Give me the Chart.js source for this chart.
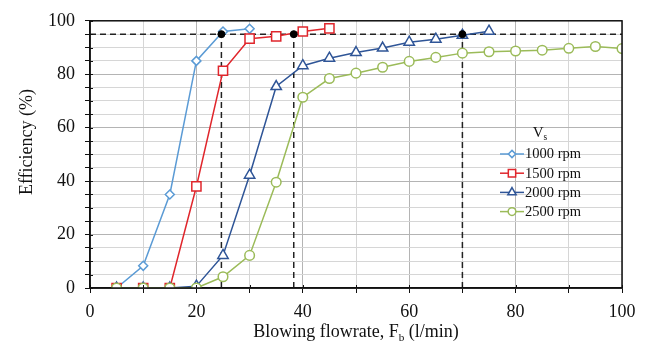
<!DOCTYPE html>
<html>
<head>
<meta charset="utf-8">
<script src="https://cdn.jsdelivr.net/npm/chart.js@4"></script>
<style>
  html, body { margin: 0; padding: 0; background: #fff; }
</style>
</head>
<body>
<canvas id="myChart" width="646" height="349"></canvas>
<script>
// blowing flowrate (l/min) and efficiency (%) per screw speed
const flow = [5, 10, 15, 20, 25, 30, 35, 40, 45, 50, 55, 60, 65, 70, 75, 80, 85, 90, 95, 100];
const eff1000 = [0, 8.3, 35, 85, 96, 97];
const eff1500 = [0, 0, 0, 38, 81.3, 93.3, 94.2, 96, 97.2];
const eff2000 = [0, 0, 0, 0.7, 12.2, 42.2, 75.4, 83.2, 86, 88.1, 89.8, 92, 93.1, 94.6, 96.1];
const eff2500 = [0, 0, 0, 0, 4.2, 12.2, 39.6, 71.4, 78.4, 80.4, 82.6, 84.8, 86.3, 87.9, 88.4, 88.7, 89, 89.7, 90.4, 89.6];
const speedLabels = ['1000 rpm', '1500 rpm', '2000 rpm', '2500 rpm'];

// 95 % target and the flowrates where each curve reaches it
const targetEff = 95;
const targetFlow = [24.7, 38.3, 70];

const xTicks = [0, 20, 40, 60, 80, 100];
const yTicks = [0, 20, 40, 60, 80, 100];
const xStep = 10, yStep = 5;

const colors = ['#5b9bd5', '#e0262c', '#2f5597', '#9bbb59'];
const styles = ['rectRot', 'rect', 'triangle', 'circle'];
const radii = [4.5, 6.5, 6, 4.8];

const FONT = "'Liberation Serif', 'Times New Roman', serif";
Chart.defaults.font.family = FONT;
Chart.defaults.color = '#111';

const series = [eff1000, eff1500, eff2000, eff2500].map((vals, i) => ({
  label: speedLabels[i],
  data: vals.map((v, j) => ({ x: flow[j], y: v })),
  borderColor: colors[i],
  backgroundColor: '#fff',
  borderWidth: 1.5,
  pointStyle: styles[i],
  pointRadius: radii[i],
  pointBorderWidth: 1.5,
  pointBackgroundColor: '#fff',
  order: 5 - i * 0.1
}));

const dashed = {
  borderColor: '#222',
  borderWidth: 1.5,
  borderDash: [6, 4],
  pointRadius: 0,
  order: 10
};
const guides = [
  Object.assign({ data: [{ x: 0, y: targetEff }, { x: 100, y: targetEff }] }, dashed)
].concat(targetFlow.map(f => Object.assign({ data: [{ x: f, y: 0 }, { x: f, y: targetEff }] }, dashed)));

const dots = {
  data: targetFlow.map(f => ({ x: f, y: targetEff })),
  showLine: false,
  pointRadius: 3.5,
  pointBackgroundColor: '#000',
  pointBorderColor: '#000',
  order: 0
};

function gridColor(c) {
  return c.tick && c.tick.value % 20 === 0 ? '#b4b4b4' : '#d6d6d6';
}

// every minor step gets a tick and a grid line
function stepTicks(step) {
  return function (s) {
    const out = [];
    for (let v = s.min; v <= s.max; v += step) out.push({ value: v });
    s.ticks = out;
  };
}

// text with a subscript, centred on x
function subText(ctx, before, sub, after, x, y, size) {
  ctx.font = size + 'px ' + FONT;
  const w1 = ctx.measureText(before).width;
  const w3 = ctx.measureText(after).width;
  ctx.font = (size * 0.62) + 'px ' + FONT;
  const w2 = ctx.measureText(sub).width;
  let sx = x - (w1 + w2 + w3) / 2;
  ctx.textAlign = 'left';
  ctx.textBaseline = 'alphabetic';
  ctx.font = size + 'px ' + FONT;
  ctx.fillText(before, sx, y);
  sx += w1;
  ctx.font = (size * 0.62) + 'px ' + FONT;
  ctx.fillText(sub, sx, y + size * 0.22);
  sx += w2;
  ctx.font = size + 'px ' + FONT;
  ctx.fillText(after, sx, y);
}

const decor = {
  id: 'decor',
  afterDraw(chart) {
    const ctx = chart.ctx;
    const a = chart.chartArea;
    const xs = chart.scales.x, ys = chart.scales.y;
    ctx.save();
    // frame
    ctx.strokeStyle = '#111';
    ctx.lineWidth = 1.5;
    ctx.strokeRect(a.left, a.top, a.right - a.left, a.bottom - a.top);

    // tick marks poke a little into the plot
    ctx.lineWidth = 1;
    ctx.beginPath();
    ys.ticks.forEach(t => {
      const py = Math.round(ys.getPixelForValue(t.value)) + 0.5;
      ctx.moveTo(a.left, py);
      ctx.lineTo(a.left + 3, py);
    });
    xs.ticks.forEach(t => {
      const px = Math.round(xs.getPixelForValue(t.value)) + 0.5;
      ctx.moveTo(px, a.bottom);
      ctx.lineTo(px, a.bottom - 3);
    });
    ctx.stroke();

    // axis titles
    ctx.fillStyle = '#111';
    subText(ctx, 'Blowing flowrate, F', 'b', ' (l/min)', (a.left + a.right) / 2, 337, 18);
    ctx.save();
    ctx.translate(27, 142);
    ctx.rotate(-Math.PI / 2);
    ctx.font = '18px ' + FONT;
    ctx.textAlign = 'center';
    ctx.textBaseline = 'middle';
    ctx.fillText('Efficiency (%)', 0, 0);
    ctx.restore();

    // legend
    subText(ctx, 'V', 's', '', 540, 137, 15);
    const lx = 500, ly = 154, step = 19.2;
    speedLabels.forEach((lab, i) => {
      const y = ly + i * step;
      ctx.strokeStyle = colors[i];
      ctx.lineWidth = 1.5;
      ctx.beginPath();
      ctx.moveTo(lx, y);
      ctx.lineTo(lx + 24, y);
      ctx.stroke();
      ctx.fillStyle = '#fff';
      Chart.helpers.drawPoint(ctx, {
        pointStyle: styles[i],
        radius: radii[i] * 0.8,
        rotation: 0,
        borderWidth: 1.5
      }, lx + 12, y);
      ctx.fillStyle = '#111';
      ctx.font = '14.5px ' + FONT;
      ctx.textAlign = 'left';
      ctx.textBaseline = 'middle';
      ctx.fillText(lab, lx + 25, y + 0.5);
    });
    ctx.restore();
  }
};

new Chart(document.getElementById('myChart'), {
  type: 'line',
  data: { datasets: guides.concat(series, [dots]) },
  options: {
    responsive: false,
    animation: false,
    layout: { padding: { top: 16, right: 24, left: 0, bottom: 0 } },
    plugins: { legend: { display: false }, tooltip: { enabled: false } },
    scales: {
      x: {
        type: 'linear',
        min: 0,
        max: 100,
        afterFit(s) { s.height = 61; },
        afterBuildTicks: stepTicks(xStep),
        ticks: {
          autoSkip: false,
          maxRotation: 0,
          padding: 8,
          font: { size: 18 },
          color: '#111',
          callback: v => xTicks.includes(v) ? v : ''
        },
        grid: { color: gridColor, tickColor: '#111', tickLength: 5, lineWidth: 1 },
        border: { color: '#111', width: 1.5 }
      },
      y: {
        type: 'linear',
        min: 0,
        max: 100,
        afterFit(s) { s.width = 90; },
        afterBuildTicks: stepTicks(yStep),
        ticks: {
          autoSkip: false,
          padding: 10,
          font: { size: 18 },
          color: '#111',
          callback: v => yTicks.includes(v) ? v : ''
        },
        grid: { color: gridColor, tickColor: '#111', tickLength: 5, lineWidth: 1 },
        border: { color: '#111', width: 1.5 }
      }
    }
  },
  plugins: [decor]
});
</script>
</body>
</html>
